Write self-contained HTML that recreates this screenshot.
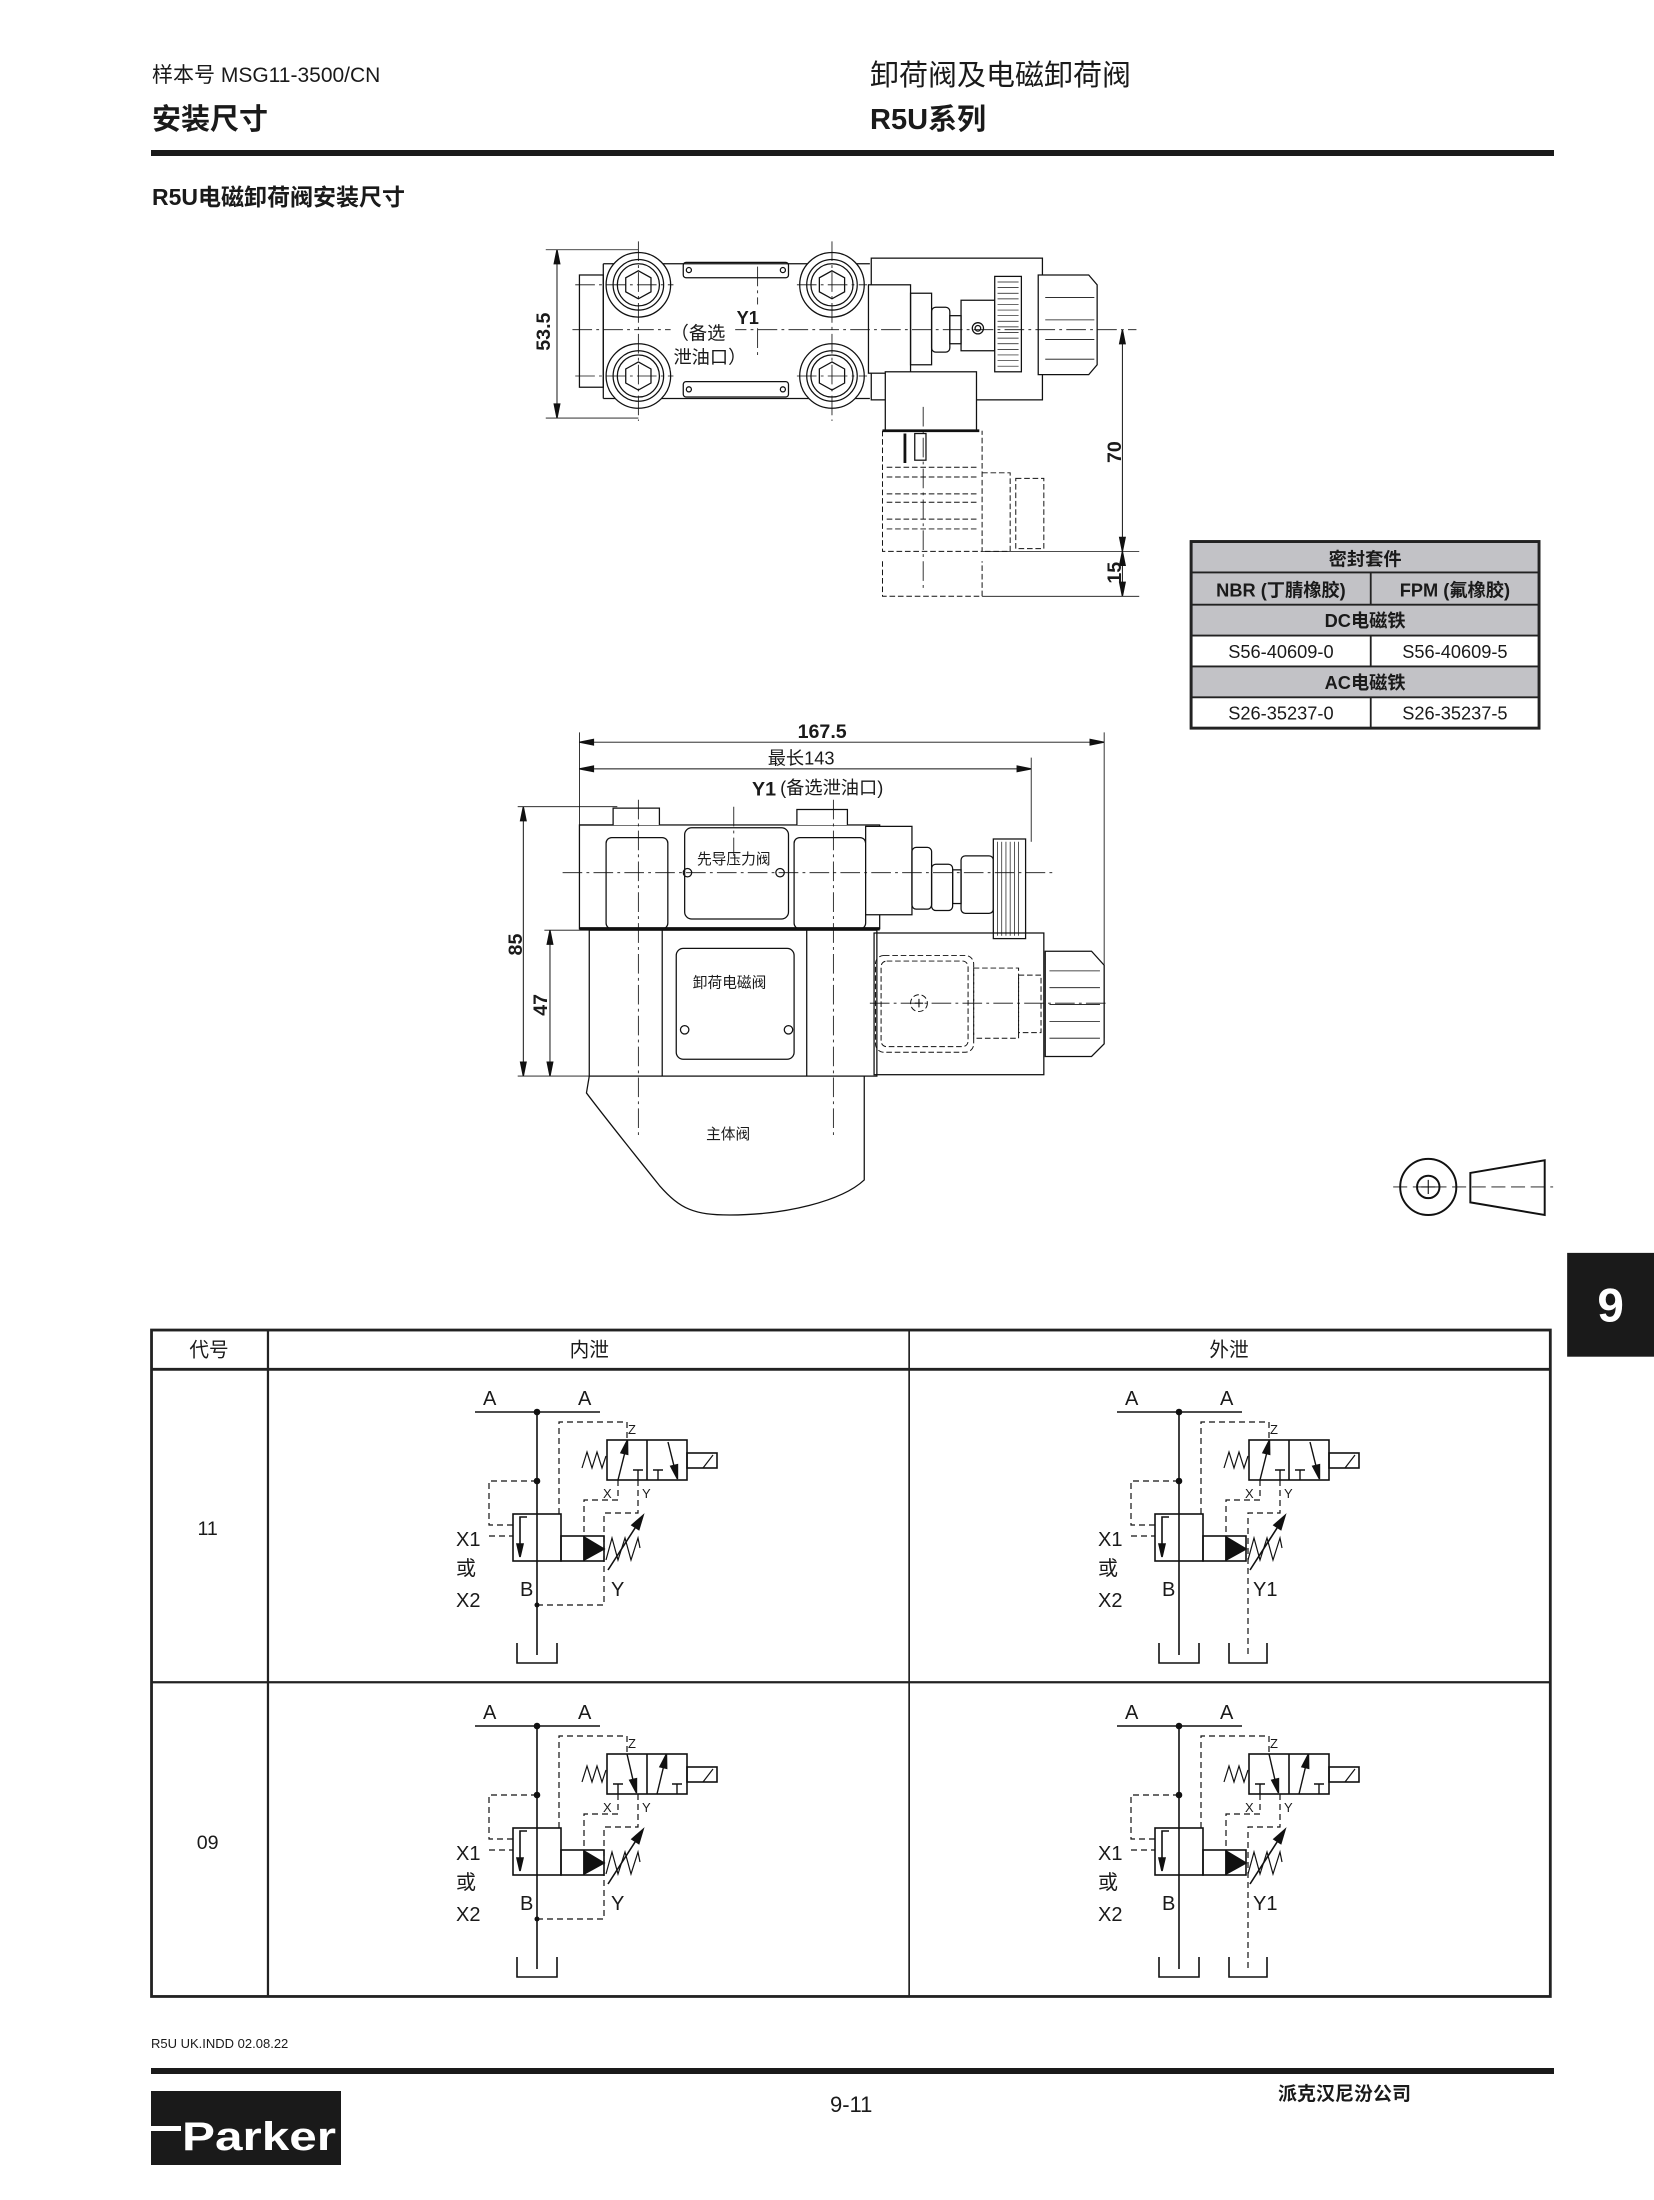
<!DOCTYPE html>
<html><head><meta charset="utf-8"><style>
html,body{margin:0;padding:0;background:#fff;}
svg{display:block;}
text{font-family:"Liberation Sans","Noto Sans CJK SC",sans-serif;fill:#1a1a1a;}
</style></head><body>
<svg width="1654" height="2200" viewBox="0 0 1654 2200" xmlns="http://www.w3.org/2000/svg">
<defs>
<g id="schBase" fill="none" stroke="#111" stroke-width="1.6">
  <line x1="35" y1="42" x2="160" y2="42"/>
  <line x1="97" y1="42" x2="97" y2="285"/>
  <path d="M77,273 V293 H117 V273"/>
  <rect x="73" y="144" width="48" height="47"/>
  <rect x="121" y="166" width="43" height="25"/>
  <line x1="144" y1="166" x2="144" y2="191"/>
  <polygon points="144,167 144,190 164,179" fill="#111"/>
  <polyline points="87,147 80,147 80,178"/>
  <polygon points="77,174 83,174 80,187" fill="#111"/>
  <polyline points="166,190 172,168 178,190 185,168 191,190 198,168 200,178" stroke-width="1.2"/>
  <line x1="168" y1="200" x2="197" y2="155"/>
  <polygon points="203,145.5 198.8,159.5 192,155.1" fill="#111"/>
  <g stroke-dasharray="6,4" stroke-width="1.2">
    <path d="M97,111 H49 V155 H73"/>
    <path d="M49,166 H73"/>
    <path d="M119,144 V52 H187 V70"/>
    <path d="M178,110 V130 H144 V166"/>
  </g>
  <rect x="167" y="70" width="80" height="40"/>
  <line x1="207" y1="70" x2="207" y2="110"/>
  <rect x="247" y="83" width="30" height="15"/>
  <line x1="263" y1="98" x2="273" y2="85" stroke-width="1.2"/>
  <polyline points="142,98 147,82 152,98 157,82 162,98 166,86" stroke-width="1.2"/>
  <circle cx="97" cy="42" r="2.5" fill="#111"/>
  <circle cx="97" cy="111" r="2.5" fill="#111"/>
</g>
<g id="pil11" fill="none" stroke="#111" stroke-width="1.4">
  <line x1="178" y1="110" x2="185" y2="82"/>
  <polygon points="187.5,70 187.7,84.4 180.9,82.8" fill="#111"/>
  <path d="M193,100 H203 M198,100 V110"/>
  <line x1="228" y1="72" x2="234" y2="96"/>
  <polygon points="237.5,109 237.5,94.6 230.7,96.2" fill="#111"/>
  <path d="M213,100 H223 M218,100 V110"/>
</g>
<g id="pil09" fill="none" stroke="#111" stroke-width="1.4">
  <path d="M173,100 H183 M178,100 V110"/>
  <line x1="187" y1="70" x2="193" y2="96"/>
  <polygon points="196.5,109 196.5,94.6 189.7,96.2" fill="#111"/>
  <line x1="217" y1="110" x2="223.5" y2="83"/>
  <polygon points="226.5,70 226.7,84.4 219.9,82.8" fill="#111"/>
  <path d="M232,100 H242 M237,100 V110"/>
</g>
<g id="yInt" fill="none" stroke="#111" stroke-width="1.2">
  <path d="M198,110 V143 H164 V235 H97" stroke-dasharray="6,4"/>
  <circle cx="97" cy="235" r="2.5" fill="#111" stroke="none"/>
</g>
<g id="yExt" fill="none" stroke="#111" stroke-width="1.2">
  <path d="M198,110 V143 H166 V285" stroke-dasharray="6,4"/>
  <path d="M147,273 V293 H185 V273" stroke-width="1.6"/>
</g>
</defs>

<!-- Header -->
<text x="152" y="82" font-size="21" fill="#333">样本号 MSG11-3500/CN</text>
<text x="152" y="129" font-size="29" font-weight="bold">安装尺寸</text>
<text x="870" y="85" font-size="29">卸荷阀及电磁卸荷阀</text>
<text x="870" y="129" font-size="29" font-weight="bold">R5U系列</text>
<rect x="151" y="150" width="1403" height="6" fill="#1a1a1a"/>
<text x="152" y="205" font-size="23" font-weight="bold">R5U电磁卸荷阀安装尺寸</text>

<g transform="scale(1.403)">
<!-- ===== TOP VIEW ===== -->
<g fill="none" stroke="#111" stroke-width="0.9">
  <line x1="389" y1="178" x2="455" y2="178" stroke-width="0.6"/>
  <line x1="389" y1="298" x2="455" y2="298" stroke-width="0.6"/>
  <line x1="397" y1="178" x2="397" y2="298" stroke-width="0.7"/>
  <polygon points="397,178 395,188 399,188" fill="#111"/>
  <polygon points="397,298 395,288 399,288" fill="#111"/>
  <rect x="413" y="196" width="17" height="80"/>
  <path d="M430,188 H620 M430,284 H620 M430,188 V284"/>
  <rect x="487" y="187" width="75" height="11" rx="2"/>
  <rect x="487" y="272" width="75" height="11" rx="2"/>
  <circle cx="491" cy="192.5" r="1.8"/><circle cx="558" cy="192.5" r="1.8"/>
  <circle cx="491" cy="277.5" r="1.8"/><circle cx="558" cy="277.5" r="1.8"/>
  <g id="boltA">
    <circle cx="455" cy="203" r="23" fill="#fff"/><circle cx="455" cy="203" r="18"/><circle cx="455" cy="203" r="15"/>
    <polygon points="455,193 464,198 464,208 455,213 446,208 446,198"/>
  </g>
  <circle cx="593" cy="203" r="23" fill="#fff"/><circle cx="593" cy="203" r="18"/><circle cx="593" cy="203" r="15"/>
  <polygon points="593,193 602,198 602,208 593,213 584,208 584,198"/>
  <circle cx="455" cy="268" r="23" fill="#fff"/><circle cx="455" cy="268" r="18"/><circle cx="455" cy="268" r="15"/>
  <polygon points="455,258 464,263 464,273 455,278 446,273 446,263"/>
  <circle cx="593" cy="268" r="23" fill="#fff"/><circle cx="593" cy="268" r="18"/><circle cx="593" cy="268" r="15"/>
  <polygon points="593,258 602,263 602,273 593,278 584,273 584,263"/>
  <rect x="621" y="184" width="122" height="101"/>
  <rect x="619" y="203" width="30" height="63" fill="#fff"/>
  <rect x="649" y="209" width="15" height="51"/>
  <rect x="664" y="219" width="13" height="32" rx="3"/>
  <rect x="677" y="225" width="8" height="20"/>
  <rect x="685" y="214" width="24" height="36"/>
  <circle cx="697" cy="234" r="4"/><circle cx="697" cy="234" r="2"/>
  <rect x="709" y="197" width="19" height="68" fill="#fff"/>
  <g stroke-width="0.5">
    <line x1="711" y1="201" x2="726" y2="201"/><line x1="711" y1="205" x2="726" y2="205"/><line x1="711" y1="209" x2="726" y2="209"/><line x1="711" y1="213" x2="726" y2="213"/><line x1="711" y1="217" x2="726" y2="217"/><line x1="711" y1="221" x2="726" y2="221"/><line x1="711" y1="225" x2="726" y2="225"/><line x1="711" y1="229" x2="726" y2="229"/><line x1="711" y1="233" x2="726" y2="233"/><line x1="711" y1="237" x2="726" y2="237"/><line x1="711" y1="241" x2="726" y2="241"/><line x1="711" y1="245" x2="726" y2="245"/><line x1="711" y1="249" x2="726" y2="249"/><line x1="711" y1="253" x2="726" y2="253"/><line x1="711" y1="257" x2="726" y2="257"/><line x1="711" y1="261" x2="726" y2="261"/>
  </g>
  <path d="M740,196 H776 L782,203 V260 L776,267 H740 Z" fill="#fff"/>
  <path d="M745,212 H780 M745,228 H780 M745,242 H780 M745,256 H780" stroke-width="0.6"/>
  <rect x="631" y="265" width="65" height="42" fill="#fff"/>
  <line x1="629" y1="307" x2="698" y2="307" stroke-width="2"/>
  <line x1="645" y1="309" x2="645" y2="330" stroke-width="2"/>
  <rect x="652" y="309" width="8" height="19"/>
  <g stroke-dasharray="4,2" stroke-width="0.7">
    <path d="M629,307 V393 H700 V307"/>
    <path d="M632,333 H698 M632,340 H698 M632,352 H698 M632,358 H698 M632,370 H698 M632,377 H698"/>
    <path d="M700,337 H720 V393 H700"/>
    <rect x="724" y="341" width="20" height="50"/>
    <path d="M629,400 V425 H700 V400"/>
  </g>
  <line x1="700" y1="393" x2="812" y2="393" stroke-width="0.6"/>
  <line x1="700" y1="425" x2="812" y2="425" stroke-width="0.6"/>
  <line x1="800" y1="235" x2="800" y2="425" stroke-width="0.7"/>
  <polygon points="800,235 798,245 802,245" fill="#111"/>
  <polygon points="800,393 798,383 802,383" fill="#111"/>
  <polygon points="800,393 798,403 802,403" fill="#111"/>
  <polygon points="800,425 798,415 802,415" fill="#111"/>
  <g stroke-dasharray="14,3,2,3" stroke-width="0.6">
    <line x1="408" y1="235" x2="810" y2="235"/>
    <line x1="455" y1="172" x2="455" y2="300"/>
    <line x1="593" y1="172" x2="593" y2="300"/>
    <line x1="410" y1="203" x2="480" y2="203"/><line x1="410" y1="268" x2="480" y2="268"/>
    <line x1="568" y1="203" x2="618" y2="203"/><line x1="568" y1="268" x2="618" y2="268"/>
    <line x1="540" y1="190" x2="540" y2="255"/>
    <line x1="658" y1="290" x2="658" y2="420"/>
  </g>
</g>
<rect x="522" y="217" width="22" height="16" fill="#fff"/>
<text x="525" y="231" font-size="13" font-weight="bold">Y1</text>
<rect x="478" y="228" width="46" height="36" fill="#fff"/>
<text x="478" y="242" font-size="13">（备选</text>
<text x="480" y="259" font-size="13">泄油口）</text>
<text transform="translate(392,250) rotate(-90)" font-size="14" font-weight="bold">53.5</text>
<text transform="translate(799,330) rotate(-90)" font-size="14" font-weight="bold">70</text>
<text transform="translate(799,416) rotate(-90)" font-size="14" font-weight="bold">15</text>

<!-- ===== SEAL TABLE ===== -->
<g stroke="#222">
  <rect x="849" y="386" width="248" height="133" fill="#c2c2c6" stroke-width="2"/>
  <rect x="850" y="453" width="246" height="22" fill="#fff" stroke="none"/>
  <rect x="850" y="497" width="246" height="21" fill="#fff" stroke="none"/>
  <g stroke-width="1.3">
  <line x1="849" y1="408" x2="1097" y2="408"/><line x1="849" y1="431" x2="1097" y2="431"/>
  <line x1="849" y1="453" x2="1097" y2="453"/><line x1="849" y1="475" x2="1097" y2="475"/>
  <line x1="849" y1="497" x2="1097" y2="497"/>
  <line x1="977" y1="408" x2="977" y2="431"/><line x1="977" y1="453" x2="977" y2="475"/><line x1="977" y1="497" x2="977" y2="519"/>
  </g>
  <rect x="849" y="386" width="248" height="133" fill="none" stroke-width="2"/>
</g>
<g font-size="13" text-anchor="middle">
<text x="973" y="403" font-weight="bold">密封套件</text>
<text x="913" y="425" font-weight="bold">NBR (丁腈橡胶)</text>
<text x="1037" y="425" font-weight="bold">FPM (氟橡胶)</text>
<text x="973" y="447" font-weight="bold">DC电磁铁</text>
<text x="913" y="469">S56-40609-0</text>
<text x="1037" y="469">S56-40609-5</text>
<text x="973" y="491" font-weight="bold">AC电磁铁</text>
<text x="913" y="513">S26-35237-0</text>
<text x="1037" y="513">S26-35237-5</text>
</g>

<!-- ===== SIDE VIEW ===== -->
<g fill="none" stroke="#111" stroke-width="0.9">
  <line x1="413" y1="522" x2="413" y2="662" stroke-width="0.6"/>
  <line x1="735" y1="540" x2="735" y2="600" stroke-width="0.6"/>
  <line x1="787" y1="522" x2="787" y2="740" stroke-width="0.6"/>
  <line x1="413" y1="529" x2="787" y2="529" stroke-width="0.7"/>
  <polygon points="413,529 423,527 423,531" fill="#111"/><polygon points="787,529 777,527 777,531" fill="#111"/>
  <line x1="413" y1="548" x2="735" y2="548" stroke-width="0.7"/>
  <polygon points="413,548 423,546 423,550" fill="#111"/><polygon points="735,548 725,546 725,550" fill="#111"/>
  <line x1="369" y1="575" x2="440" y2="575" stroke-width="0.6"/>
  <line x1="369" y1="767" x2="420" y2="767" stroke-width="0.6"/>
  <line x1="388" y1="663" x2="420" y2="663" stroke-width="0.6"/>
  <line x1="373" y1="575" x2="373" y2="767" stroke-width="0.7"/>
  <polygon points="373,575 371,585 375,585" fill="#111"/><polygon points="373,767 371,757 375,757" fill="#111"/>
  <line x1="392" y1="663" x2="392" y2="767" stroke-width="0.7"/>
  <polygon points="392,663 390,673 394,673" fill="#111"/><polygon points="392,767 390,757 394,757" fill="#111"/>
  <rect x="413" y="588" width="214" height="74"/>
  <path d="M413,588 H437 V576 H470 V588" fill="#fff"/>
  <path d="M568,588 V577 H604 V588" fill="#fff"/>
  <rect x="432" y="597" width="44" height="65" rx="4" fill="#fff"/>
  <rect x="566" y="597" width="51" height="65" rx="4" fill="#fff"/>
  <rect x="488" y="590" width="74" height="65" rx="5" fill="#fff"/>
  <circle cx="490" cy="622" r="3"/><circle cx="556" cy="622" r="3"/>
  <rect x="617" y="589" width="33" height="63" fill="#fff"/>
  <rect x="650" y="604" width="14" height="44" rx="3"/>
  <rect x="664" y="616" width="15" height="33" rx="3"/>
  <rect x="679" y="620" width="6" height="24"/>
  <rect x="685" y="610" width="23" height="41" rx="3"/>
  <rect x="708" y="598" width="23" height="71" fill="#fff"/>
  <g stroke-width="0.5">
    <line x1="711" y1="600" x2="711" y2="667"/><line x1="714" y1="600" x2="714" y2="667"/><line x1="717" y1="600" x2="717" y2="667"/><line x1="720" y1="600" x2="720" y2="667"/><line x1="723" y1="600" x2="723" y2="667"/><line x1="726" y1="600" x2="726" y2="667"/>
  </g>
  <line x1="413" y1="662" x2="627" y2="662" stroke-width="2.4"/>
  <rect x="420" y="663" width="205" height="104"/>
  <line x1="472" y1="663" x2="472" y2="767"/><line x1="575" y1="663" x2="575" y2="767"/>
  <rect x="482" y="676" width="84" height="79" rx="5"/>
  <circle cx="488" cy="734" r="3"/><circle cx="562" cy="734" r="3"/>
  <rect x="623" y="665" width="121" height="101"/>
  <g stroke-dasharray="4,2" stroke-width="0.7">
    <rect x="624" y="681" width="70" height="69" rx="6"/>
    <rect x="628" y="685" width="62" height="61" rx="4"/>
    <rect x="694" y="690" width="32" height="50"/>
    <rect x="726" y="695" width="16" height="41"/>
    <circle cx="655" cy="715" r="6"/>
  </g>
  <path d="M652,715 H658 M655,712 V718" stroke-width="0.8"/>
  <path d="M745,678 H778 L787,688 V744 L778,753 H745 Z" fill="#fff"/>
  <path d="M748,692 H784 M748,704 H784 M748,716 H784 M748,728 H784 M748,740 H784" stroke-width="0.6"/>
  <path d="M420,767 L418,779 C430,795 450,820 470,845 C485,862 495,866 520,866 C560,866 600,856 616,841 V767"/>
  <g stroke-dasharray="14,3,2,3" stroke-width="0.6">
    <line x1="401" y1="622" x2="751" y2="622"/>
    <line x1="620" y1="715" x2="790" y2="715"/>
    <line x1="455" y1="570" x2="455" y2="810"/>
    <line x1="594" y1="570" x2="594" y2="810"/>
    <line x1="523" y1="575" x2="523" y2="610"/>
  </g>
</g>
<text x="586" y="526" font-size="14" font-weight="bold" text-anchor="middle">167.5</text>
<text x="571" y="545" font-size="13" text-anchor="middle">最长143</text>
<text x="536" y="567" font-size="14" font-weight="bold">Y1</text>
<text x="556" y="566" font-size="13">(备选泄油口)</text>
<text x="523" y="616" font-size="10.5" text-anchor="middle">先导压力阀</text>
<text x="520" y="704" font-size="10.5" text-anchor="middle">卸荷电磁阀</text>
<text x="519" y="812" font-size="10.5" text-anchor="middle">主体阀</text>
<text transform="translate(372,681) rotate(-90)" font-size="14" font-weight="bold">85</text>
<text transform="translate(390,724) rotate(-90)" font-size="14" font-weight="bold">47</text>

<!-- projection symbol -->
<g fill="none" stroke="#111" stroke-width="1.4">
  <circle cx="1018" cy="846" r="20"/><circle cx="1018" cy="846" r="8"/>
  <path d="M1013,846 H1023 M1018,841 V851" stroke-width="0.8"/>
  <polygon points="1048,836 1101,827 1101,866 1048,857"/>
  <line x1="993" y1="846" x2="1107" y2="846" stroke-dasharray="10,4" stroke-width="0.7"/>
</g>
<!-- tab 9 -->
<rect x="1117" y="893" width="62" height="74" fill="#1a1a1a"/>
<text x="1148" y="942" font-size="34" font-weight="bold" text-anchor="middle" style="fill:#fff">9</text>

<!-- bottom table -->
<g stroke="#222" fill="none">
  <rect x="108" y="948" width="997" height="475" stroke-width="2"/>
  <line x1="108" y1="976" x2="1105" y2="976" stroke-width="2"/>
  <line x1="108" y1="1199" x2="1105" y2="1199" stroke-width="1.6"/>
  <line x1="191" y1="948" x2="191" y2="1423" stroke-width="1.6"/>
  <line x1="648" y1="948" x2="648" y2="1423" stroke-width="1.2"/>
</g>
<g font-size="14" text-anchor="middle">
<text x="149" y="967">代号</text>
<text x="420" y="967">内泄</text>
<text x="876" y="967">外泄</text>
<text x="148" y="1094">11</text>
<text x="148" y="1318">09</text>
</g>
</g>

<!-- schematics (original px coords) -->
<g transform="translate(440,1370)"><use href="#schBase"/><use href="#pil11"/><use href="#yInt"/></g>
<g transform="translate(1082,1370)"><use href="#schBase"/><use href="#pil11"/><use href="#yExt"/></g>
<g transform="translate(440,1684)"><use href="#schBase"/><use href="#pil09"/><use href="#yInt"/></g>
<g transform="translate(1082,1684)"><use href="#schBase"/><use href="#pil09"/><use href="#yExt"/></g>

<g font-size="20">
<g transform="translate(440,1370)">
<text x="43" y="35">A</text><text x="138" y="35">A</text>
<text x="188" y="64" font-size="13">Z</text><text x="163" y="128" font-size="13">X</text><text x="202" y="128" font-size="13">Y</text>
<text x="16" y="176">X1</text><text x="16" y="205">或</text><text x="16" y="237">X2</text>
<text x="80" y="226">B</text><text x="171" y="226">Y</text>
</g>
<g transform="translate(1082,1370)">
<text x="43" y="35">A</text><text x="138" y="35">A</text>
<text x="188" y="64" font-size="13">Z</text><text x="163" y="128" font-size="13">X</text><text x="202" y="128" font-size="13">Y</text>
<text x="16" y="176">X1</text><text x="16" y="205">或</text><text x="16" y="237">X2</text>
<text x="80" y="226">B</text><text x="171" y="226">Y1</text>
</g>
<g transform="translate(440,1684)">
<text x="43" y="35">A</text><text x="138" y="35">A</text>
<text x="188" y="64" font-size="13">Z</text><text x="163" y="128" font-size="13">X</text><text x="202" y="128" font-size="13">Y</text>
<text x="16" y="176">X1</text><text x="16" y="205">或</text><text x="16" y="237">X2</text>
<text x="80" y="226">B</text><text x="171" y="226">Y</text>
</g>
<g transform="translate(1082,1684)">
<text x="43" y="35">A</text><text x="138" y="35">A</text>
<text x="188" y="64" font-size="13">Z</text><text x="163" y="128" font-size="13">X</text><text x="202" y="128" font-size="13">Y</text>
<text x="16" y="176">X1</text><text x="16" y="205">或</text><text x="16" y="237">X2</text>
<text x="80" y="226">B</text><text x="171" y="226">Y1</text>
</g>
</g>

<!-- footer -->
<text x="151" y="2048" font-size="13" fill="#333">R5U UK.INDD 02.08.22</text>
<rect x="151" y="2068" width="1403" height="6" fill="#1a1a1a"/>
<rect x="151" y="2091" width="190" height="74" fill="#1a1a1a"/>
<rect x="151" y="2126" width="30" height="5" fill="#fff"/>
<text x="182" y="2150" font-size="40" font-weight="bold" style="fill:#fff" textLength="154" lengthAdjust="spacingAndGlyphs">Parker</text>
<text x="830" y="2112" font-size="22" fill="#222">9-11</text>
<text x="1278" y="2100" font-size="19" font-weight="bold">派克汉尼汾公司</text>
</svg>
</body></html>
